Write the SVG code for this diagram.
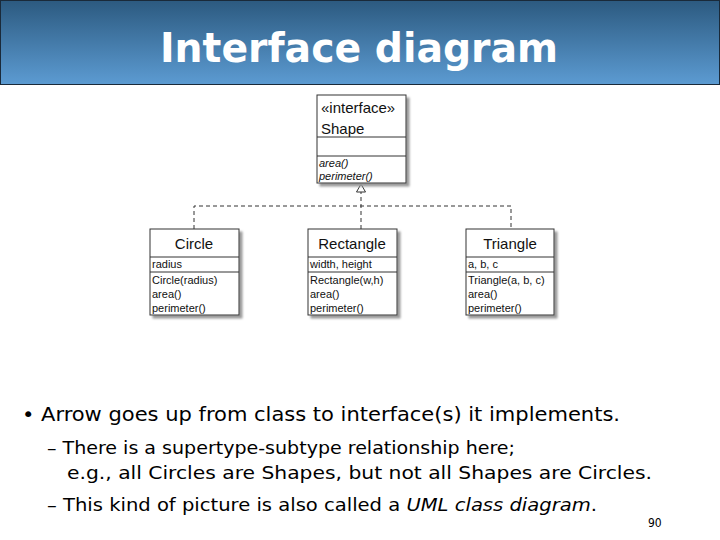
<svg xmlns="http://www.w3.org/2000/svg" width="720" height="540" viewBox="0 0 720 540">
<defs>
<linearGradient id="tg" x1="0" y1="0" x2="0" y2="1">
<stop offset="0" stop-color="#2c5a80"/>
<stop offset="1" stop-color="#5c9bd2"/>
</linearGradient>
<filter id="sh" x="-10%" y="-10%" width="130%" height="130%">
<feOffset dx="3" dy="3" in="SourceAlpha" result="o"/>
<feGaussianBlur in="o" stdDeviation="1" result="b"/>
<feFlood flood-color="#999"/>
<feComposite in2="b" operator="in"/>
<feMerge><feMergeNode/><feMergeNode in="SourceGraphic"/></feMerge>
</filter>
</defs>
<style>
.box{fill:#fff;stroke:#333;stroke-width:1}
.sep{stroke:#333;stroke-width:1}
.hd{font-family:"Liberation Sans",Arial,sans-serif;font-size:15px;fill:#111;text-anchor:middle}
.hs{font-family:"Liberation Sans",Arial,sans-serif;font-size:15px;fill:#111}
.it{font-family:"Liberation Sans",Arial,sans-serif;font-size:11px;fill:#111}
.iti{font-family:"Liberation Sans",Arial,sans-serif;font-size:11px;fill:#111;font-style:italic}
.dash{fill:none;stroke:#333;stroke-width:1;stroke-dasharray:4,3}
.body{font-family:"DejaVu Sans Condensed","DejaVu Sans",sans-serif;fill:#000}
</style>
<rect width="720" height="540" fill="#fff"/>
<g id="title">
<rect x="0.5" y="0.5" width="719" height="84" fill="url(#tg)" stroke="#1a2a3a" stroke-width="1"/>
<text x="359" y="62" font-family="DejaVu Sans Condensed, DejaVu Sans, sans-serif" font-weight="bold" font-size="40" fill="#fff" text-anchor="middle" textLength="398" lengthAdjust="spacingAndGlyphs">Interface diagram</text>
</g>
<g id="connectors">
<path class="dash" d="M194,229 V206 H511 V229 M361,229 V192"/>
<polygon points="361,184 356.5,192 365.5,192" fill="#fff" stroke="#333" stroke-width="1"/>
</g>
<g id="shape">
<rect class="box" x="317" y="95" width="89" height="88" filter="url(#sh)"/>
<line class="sep" x1="317" y1="137" x2="406" y2="137"/>
<line class="sep" x1="317" y1="156" x2="406" y2="156"/>
<text class="hs" x="321" y="113">«interface»</text>
<text class="hs" x="321" y="134">Shape</text>
<text class="iti" x="319" y="167">area()</text>
<text class="iti" x="319" y="180">perimeter()</text>
</g>
<g id="circle">
<rect class="box" x="150" y="229" width="89" height="86" filter="url(#sh)"/>
<line class="sep" x1="150" y1="257" x2="239" y2="257"/>
<line class="sep" x1="150" y1="272" x2="239" y2="272"/>
<text class="hd" x="194" y="249">Circle</text>
<text class="it" x="152" y="268">radius</text>
<text class="it" x="152" y="284">Circle(radius)</text>
<text class="it" x="152" y="298">area()</text>
<text class="it" x="152" y="312">perimeter()</text>
</g>
<g id="rectangle">
<rect class="box" x="308" y="229" width="89" height="86" filter="url(#sh)"/>
<line class="sep" x1="308" y1="257" x2="397" y2="257"/>
<line class="sep" x1="308" y1="272" x2="397" y2="272"/>
<text class="hd" x="352" y="249">Rectangle</text>
<text class="it" x="310" y="268">width, height</text>
<text class="it" x="310" y="284">Rectangle(w,h)</text>
<text class="it" x="310" y="298">area()</text>
<text class="it" x="310" y="312">perimeter()</text>
</g>
<g id="triangle">
<rect class="box" x="466" y="229" width="88" height="86" filter="url(#sh)"/>
<line class="sep" x1="466" y1="257" x2="554" y2="257"/>
<line class="sep" x1="466" y1="272" x2="554" y2="272"/>
<text class="hd" x="510" y="249">Triangle</text>
<text class="it" x="468" y="268">a, b, c</text>
<text class="it" x="468" y="284">Triangle(a, b, c)</text>
<text class="it" x="468" y="298">area()</text>
<text class="it" x="468" y="312">perimeter()</text>
</g>
<g id="text">
<text class="body" x="22" y="421" font-size="20" textLength="598" lengthAdjust="spacingAndGlyphs">• Arrow goes up from class to interface(s) it implements.</text>
<text class="body" x="47" y="454" font-size="18" textLength="468" lengthAdjust="spacingAndGlyphs">– There is a supertype-subtype relationship here;</text>
<text class="body" x="67" y="479" font-size="18" textLength="585" lengthAdjust="spacingAndGlyphs">e.g., all Circles are Shapes, but not all Shapes are Circles.</text>
<text class="body" x="47" y="511" font-size="18" textLength="550" lengthAdjust="spacingAndGlyphs">– This kind of picture is also called a <tspan font-style="italic">UML class diagram</tspan>.</text>
<text class="body" x="648" y="527" font-size="12">90</text>
</g>
</svg>
